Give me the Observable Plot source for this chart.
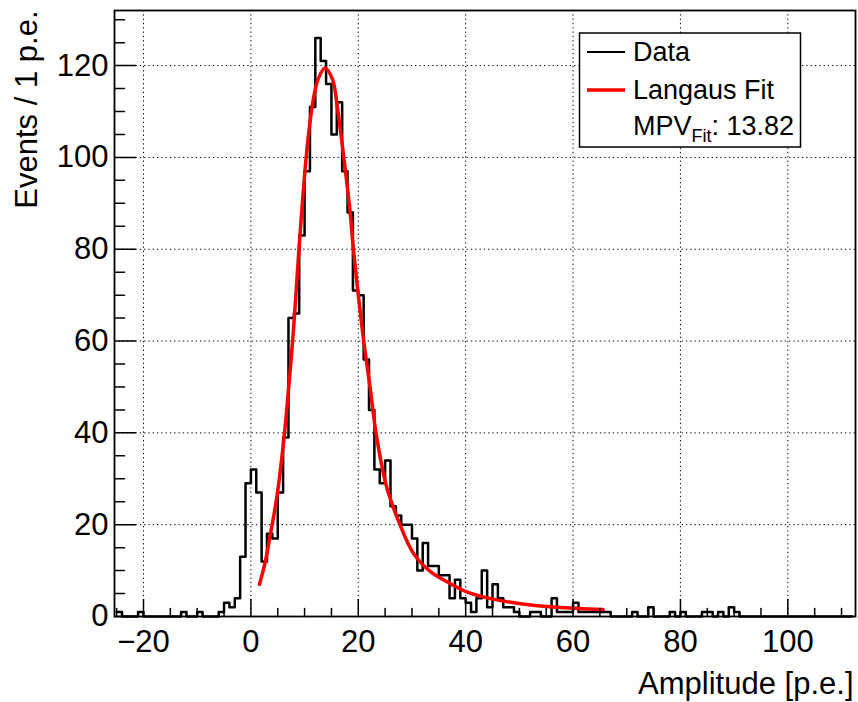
<!DOCTYPE html>
<html><head><meta charset="utf-8">
<script src="https://cdn.jsdelivr.net/npm/d3@7"></script>
<script src="https://cdn.jsdelivr.net/npm/@observablehq/plot@0.6"></script>
<style>
body{margin:0;background:#fff;}
#chart{width:858px;height:702px;}
</style>
</head><body><div id="chart"></div>
<script>
// Histogram: 1 p.e. bins, first bin starts at -25
const firstBin = -25;
const binWidth = 1;
const counts = [
  1,0,0,0,1,0,0,0,0,0,        // -25 .. -16
  0,0,1,0,0,1,0,0,0,1,        // -15 .. -6
  3,2,4,13,29,32,27,12,18,17, // -5 .. 4
  27,39,65,66,83,97,111,126,121,116, // 5 .. 14
  105,112,97,88,71,70,56,45,32,29,   // 15 .. 24
  34,24,22,20,20,17,10,16,11,11,     // 25 .. 34
  9,9,4,8,4,3,1,4,10,2,              // 35 .. 44
  7,4,2,2,1,0,0,1,1,0,               // 45 .. 54
  0,4,1,1,1,3,1,1,1,1,               // 55 .. 64
  1,1,0,0,0,0,1,0,0,2,               // 65 .. 74
  0,0,0,1,0,1,0,0,0,1,               // 75 .. 84
  1,0,1,0,2,1,0,0,0,0,               // 85 .. 94
  0,0,0,0,0,0,0,0,0,0,               // 95 .. 104
  0,0,0,0,0,0,0                      // 105 .. 111
];
// Langaus fit curve
const fitX = [1.6,2.7,3.6,4.9,5.9,6.6,7.9,8.95,10.3,11.4,12.5,13.8,15.2,16.1,17.3,18.4,19.1,20.8,22.3,23.3,25.1,26.0,27.6,30.3,33.5,36.6,40.3,44.6,50.2,57.0,65.6];
const fitY = [7,12,17.7,26.5,36,44,62,80,100,111,117,119.5,117,111,100,89,80,62,49,40,29,25.5,20.5,13.7,9.7,7.5,5.3,3.9,2.8,2.0,1.5];
const xMajor = [-20,0,20,40,60,80,100];
const yMajor = [0,20,40,60,80,100,120];
const xMinor = [-25,-15,-10,-5,5,10,15,25,30,35,45,50,55,65,70,75,85,90,95,105,110];
const yMinor = [5,10,15,25,30,35,45,50,55,65,70,75,85,90,95,105,110,115,125,130];
const legendLabels = ["Data", "Langaus Fit"];
const mpvValue = "13.82";

const hist = counts.map((c, i) => ({x: firstBin + i * binWidth, y: c}));
hist.push({x: firstBin + counts.length * binWidth, y: counts[counts.length - 1]});
const fit = fitX.map((x, i) => ({x, y: fitY[i]}));

const font = "'Liberation Sans', Arial, Helvetica, sans-serif";
const grid = {stroke: "black", strokeOpacity: 1, strokeWidth: 1, strokeDasharray: "1.3,3"};
const tickShape = {draw(context, l) { context.moveTo(0, 0); context.lineTo(0, -l); }};
const FS = 31;

const svg = Plot.plot({
  width: 858, height: 702,
  marginLeft: 114, marginRight: 3, marginTop: 10, marginBottom: 86,
  x: {domain: [-25.4, 112.6]},
  y: {domain: [0, 132]},
  style: {fontFamily: font, fontSize: FS + "px", color: "black", background: "white", overflow: "visible"},
  marks: [
    Plot.gridX(xMajor, grid),
    Plot.gridY(yMajor.filter(d => d > 0), grid),
    Plot.line(hist, {x: "x", y: "y", curve: "step-after", stroke: "black", strokeWidth: 2.5}),
    Plot.line(fit, {x: "x", y: "y", curve: "catmull-rom", stroke: "#ff0000", strokeWidth: 3.5}),
    Plot.frame({stroke: "black", strokeWidth: 1.8}),
    Plot.vector(xMinor, {x: d => d, frameAnchor: "bottom", rotate: 0, length: 8, anchor: "start", shape: tickShape, stroke: "black", strokeWidth: 1.5}),
    Plot.vector(xMajor, {x: d => d, frameAnchor: "bottom", rotate: 0, length: 17, anchor: "start", shape: tickShape, stroke: "black", strokeWidth: 1.5}),
    Plot.vector(yMinor, {y: d => d, frameAnchor: "left", rotate: 90, length: 10, anchor: "start", shape: tickShape, stroke: "black", strokeWidth: 1.5}),
    Plot.vector(yMajor, {y: d => d, frameAnchor: "left", rotate: 90, length: 21, anchor: "start", shape: tickShape, stroke: "black", strokeWidth: 1.5}),
    Plot.axisX(xMajor, {tickSize: 0, tickPadding: 13, fontSize: FS, label: null}),
    Plot.axisY(yMajor, {tickSize: 0, tickPadding: 6, fontSize: FS, label: null}),
    Plot.text(["Amplitude [p.e.]"], {frameAnchor: "bottom-right", textAnchor: "end", lineAnchor: "bottom", dx: -2, dy: 77, fontSize: FS}),
    Plot.text(["Events / 1 p.e."], {frameAnchor: "top-left", rotate: -90, textAnchor: "end", lineAnchor: "bottom", dx: -78, dy: 0, fontSize: FS})
  ]
});

// Legend box
const g = d3.select(svg).append("g").attr("font-family", font).attr("fill", "black").attr("text-anchor", "start");
g.append("rect").attr("x", 579.5).attr("y", 33).attr("width", 221).attr("height", 114)
  .attr("fill", "white").attr("stroke", "black").attr("stroke-width", 1.5);
g.append("line").attr("x1", 587).attr("x2", 625).attr("y1", 52).attr("y2", 52).attr("stroke", "black").attr("stroke-width", 2);
g.append("line").attr("x1", 587).attr("x2", 625).attr("y1", 90).attr("y2", 90).attr("stroke", "#ff0000").attr("stroke-width", 3.5);
g.append("text").attr("x", 633).attr("y", 61).attr("font-size", 27).attr("text-anchor", "start").text(legendLabels[0]);
g.append("text").attr("x", 633).attr("y", 99).attr("font-size", 27).attr("text-anchor", "start").text(legendLabels[1]);
const t = g.append("text").attr("x", 633).attr("y", 135).attr("font-size", 27).attr("text-anchor", "start");
t.append("tspan").text("MPV");
t.append("tspan").attr("font-size", 18).attr("dy", 7).text("Fit");
t.append("tspan").attr("dy", -7).text(": " + mpvValue);

document.getElementById("chart").appendChild(svg);
</script>
</body></html>
